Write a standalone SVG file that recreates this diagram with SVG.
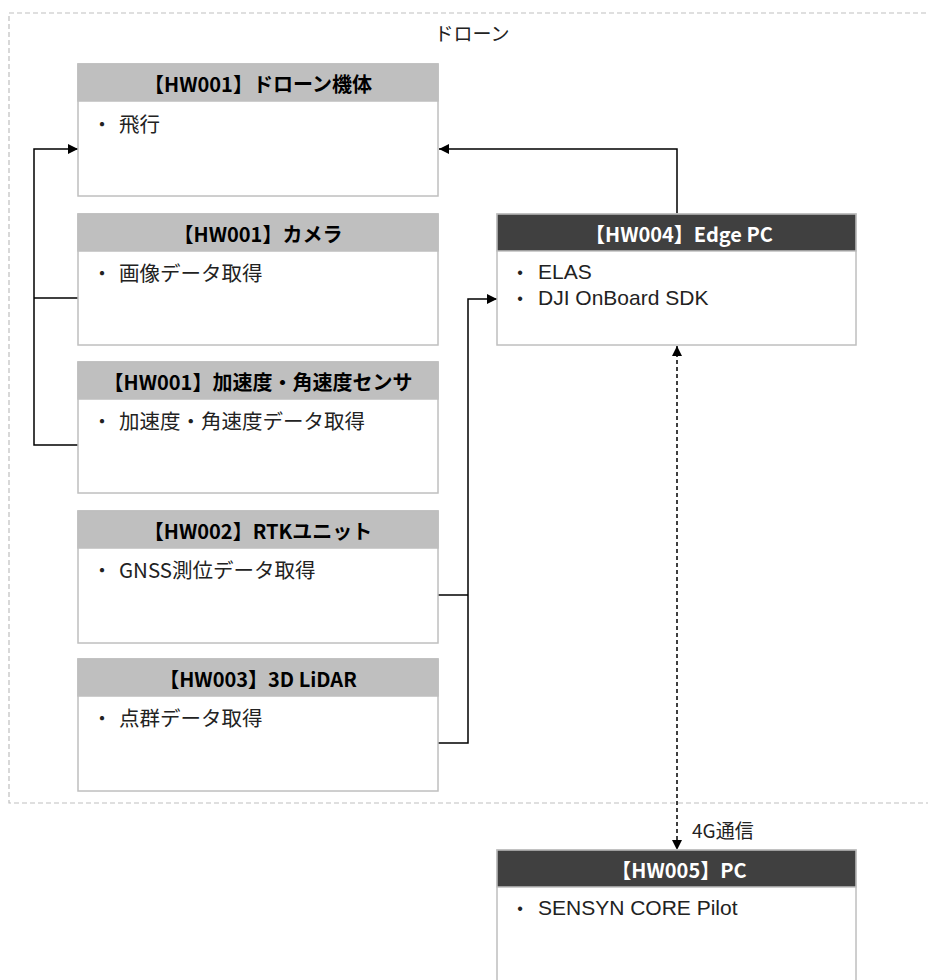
<svg xmlns="http://www.w3.org/2000/svg" width="928" height="980" viewBox="0 0 928 980">
  <defs>
    <style>
      text { font-family: "Noto Sans CJK JP", "Noto Sans", sans-serif; }
      .frame { fill: none; stroke: #bfbfbf; stroke-width: 1.2; stroke-dasharray: 5 3; }
      .box { fill: #ffffff; stroke: #bfbfbf; stroke-width: 1.5; }
      .hd-light { fill: #bfbfbf; stroke: #bfbfbf; stroke-width: 1.5; }
      .hd-dark { fill: #404040; stroke: #bfbfbf; stroke-width: 1.5; }
      .t-hd { font-size: 20px; font-weight: bold; text-anchor: middle; fill: #000000; }
      .t-hd-w { font-size: 20px; font-weight: bold; text-anchor: middle; fill: #ffffff; }
      .t-body { font-size: 20.5px; fill: #222222; }
      .t-bul { font-size: 20px; fill: #222222; text-anchor: middle; }
      .t-latin { font-family: "Liberation Sans", Arial, sans-serif; font-size: 21px; fill: #222222; }
      .t-dot { font-family: "Liberation Sans", Arial, sans-serif; font-size: 16px; fill: #222222; text-anchor: middle; }
      .t-lbl { font-size: 19px; fill: #222222; }
      .wire { fill: none; stroke: #000000; stroke-width: 1.5; }
      .wire-dash { fill: none; stroke: #000000; stroke-width: 1.5; stroke-dasharray: 4 3; }
    </style>
    <marker id="arrow" viewBox="0 0 10 10" refX="10" refY="5" markerWidth="10" markerHeight="10" markerUnits="userSpaceOnUse" orient="auto-start-reverse">
      <path d="M0,0 L10,5 L0,10 Z" fill="#000000"/>
    </marker>
  </defs>

  <!-- drone enclosure -->
  <g id="drone-frame">
    <rect class="frame" x="9" y="13" width="930" height="790"/>
    <text class="t-lbl" x="472" y="41" text-anchor="middle">ドローン</text>
  </g>

  <!-- connectors -->
  <g id="connectors">
    <path class="wire" d="M78,298 H34"/>
    <path class="wire" d="M80,445 H34 V149 H78" marker-end="url(#arrow)"/>
    <path class="wire" d="M677,214 V149 H439" marker-end="url(#arrow)"/>
    <path class="wire" d="M438,595 H468"/>
    <path class="wire" d="M438,743 H468 V299 H497" marker-end="url(#arrow)"/>
    <path class="wire-dash" d="M677,346 V850" marker-start="url(#arrow)" marker-end="url(#arrow)"/>
    <text class="t-lbl" x="692" y="838">4G通信</text>
  </g>

  <!-- HW001 drone body -->
  <g id="hw001-body">
    <rect class="box" x="78" y="64" width="360" height="132"/>
    <rect class="hd-light" x="78" y="64" width="360" height="37"/>
    <text class="t-hd" x="258" y="92">【HW001】ドローン機体</text>
    <text class="t-bul" x="102" y="132">・</text>
    <text class="t-body" x="119" y="132">飛行</text>
  </g>

  <!-- HW001 camera -->
  <g id="hw001-camera">
    <rect class="box" x="78" y="214" width="360" height="131"/>
    <rect class="hd-light" x="78" y="214" width="360" height="37"/>
    <text class="t-hd" x="258" y="242">【HW001】カメラ</text>
    <text class="t-bul" x="102" y="281">・</text>
    <text class="t-body" x="119" y="281">画像データ取得</text>
  </g>

  <!-- HW001 IMU -->
  <g id="hw001-imu">
    <rect class="box" x="78" y="362" width="360" height="131"/>
    <rect class="hd-light" x="78" y="362" width="360" height="37"/>
    <text class="t-hd" x="258" y="390">【HW001】加速度・角速度センサ</text>
    <text class="t-bul" x="102" y="429">・</text>
    <text class="t-body" x="119" y="429">加速度・角速度データ取得</text>
  </g>

  <!-- HW002 RTK -->
  <g id="hw002-rtk">
    <rect class="box" x="78" y="511" width="360" height="132"/>
    <rect class="hd-light" x="78" y="511" width="360" height="37"/>
    <text class="t-hd" x="258" y="539">【HW002】RTKユニット</text>
    <text class="t-bul" x="102" y="578">・</text>
    <text class="t-body" x="119" y="578">GNSS測位データ取得</text>
  </g>

  <!-- HW003 LiDAR -->
  <g id="hw003-lidar">
    <rect class="box" x="78" y="659" width="360" height="132"/>
    <rect class="hd-light" x="78" y="659" width="360" height="37"/>
    <text class="t-hd" x="258" y="687">【HW003】3D LiDAR</text>
    <text class="t-bul" x="102" y="726">・</text>
    <text class="t-body" x="119" y="726">点群データ取得</text>
  </g>

  <!-- HW004 Edge PC -->
  <g id="hw004-edge-pc">
    <rect class="box" x="497" y="214" width="359" height="131"/>
    <rect class="hd-dark" x="497" y="214" width="359" height="37"/>
    <text class="t-hd-w" x="679" y="242">【HW004】Edge PC</text>
    <text class="t-dot" x="520" y="278">•</text>
    <text class="t-latin" x="538" y="279">ELAS</text>
    <text class="t-dot" x="520" y="304">•</text>
    <text class="t-latin" x="538" y="305">DJI OnBoard SDK</text>
  </g>

  <!-- HW005 PC -->
  <g id="hw005-pc">
    <rect class="box" x="497" y="850" width="359" height="134"/>
    <rect class="hd-dark" x="497" y="850" width="359" height="37"/>
    <text class="t-hd-w" x="679" y="878">【HW005】PC</text>
    <text class="t-dot" x="520" y="914">•</text>
    <text class="t-latin" x="538" y="915">SENSYN CORE Pilot</text>
  </g>
</svg>
